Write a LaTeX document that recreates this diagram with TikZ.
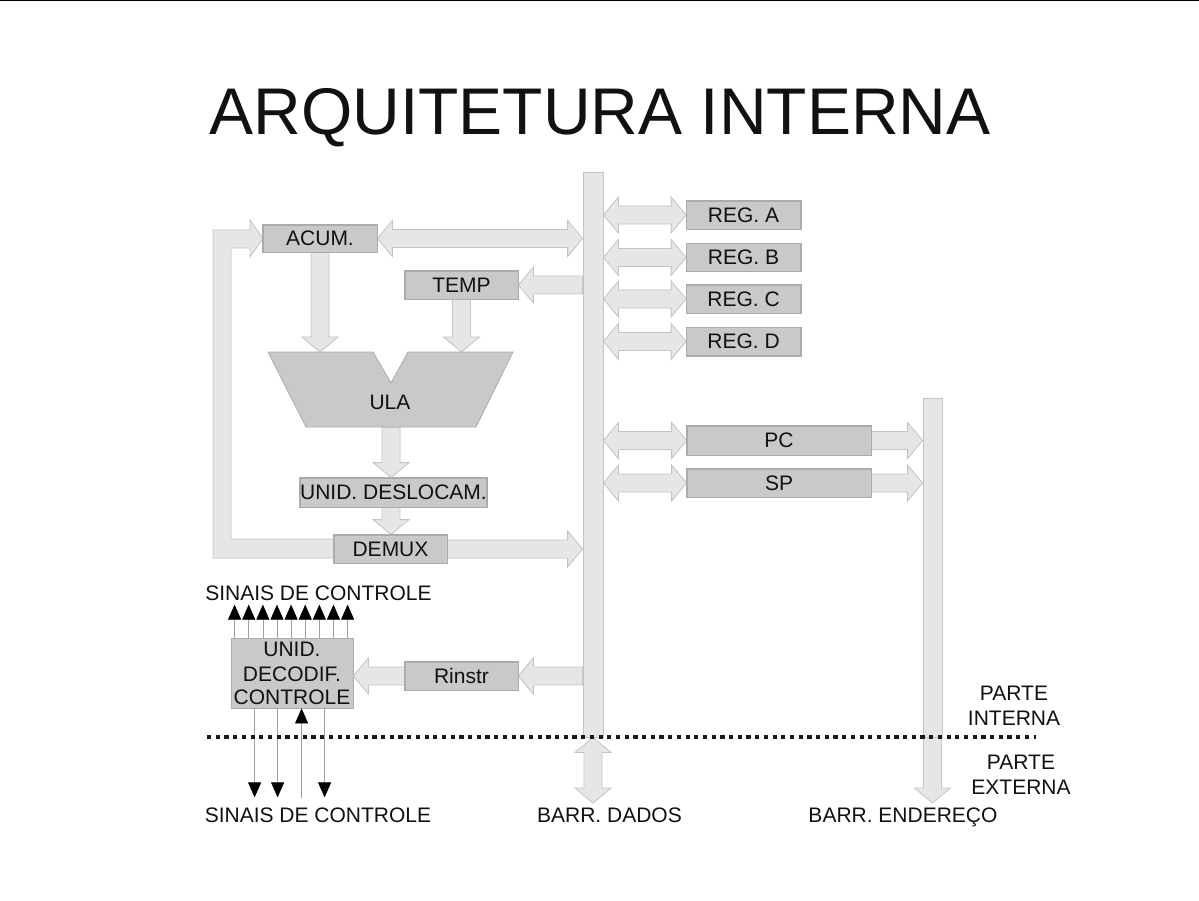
\documentclass[tikz,border=0pt]{standalone}
\usepackage{fontspec}
\setmainfont{Liberation Sans}
\usetikzlibrary{calc,arrows.meta}
\definecolor{busfill}{HTML}{E6E6E6}
\definecolor{busline}{HTML}{C4C4C4}
\definecolor{boxfill}{HTML}{C9C9C9}
\definecolor{boxline}{HTML}{ABABAB}
\definecolor{ink}{HTML}{111111}
\definecolor{sigline}{HTML}{A0A0A0}
\newcommand\sarrow[2]{%
  \coordinate (aS) at #1; \coordinate (aE) at #2;
  \coordinate (aH) at ($(aE)!15pt!(aS)$);
  \filldraw[barrow] ($(aS)!9pt!90:(aE)$) -- ($(aH)!9pt!90:(aE)$) -- ($(aH)!18pt!90:(aE)$) -- (aE)
    -- ($(aH)!18pt!-90:(aE)$) -- ($(aH)!9pt!-90:(aE)$) -- ($(aS)!9pt!-90:(aE)$) -- cycle;}
\newcommand\darrow[2]{%
  \coordinate (aS) at #1; \coordinate (aE) at #2;
  \coordinate (aH) at ($(aE)!15pt!(aS)$);
  \coordinate (aG) at ($(aS)!15pt!(aE)$);
  \filldraw[barrow] (aS) -- ($(aG)!18pt!90:(aE)$) -- ($(aG)!9pt!90:(aE)$) -- ($(aH)!9pt!90:(aE)$)
    -- ($(aH)!18pt!90:(aE)$) -- (aE) -- ($(aH)!18pt!-90:(aE)$) -- ($(aH)!9pt!-90:(aE)$)
    -- ($(aG)!9pt!-90:(aE)$) -- ($(aG)!18pt!-90:(aE)$) -- cycle;}
\begin{document}
\begin{tikzpicture}[x=1pt,y=-1pt,font=\fontsize{21}{24}\selectfont,
  box/.style={fill=boxfill,draw=boxline,line width=0.8pt,inner sep=0pt,text=ink,text depth=0pt},
  bus/.style={fill=busfill,draw=busline,line width=0.8pt,inner sep=0pt},
  barrow/.style={fill=busfill,draw=busline,line width=0.8pt},
  lbl/.style={inner sep=0pt,text=ink,text depth=0pt},
  sig/.style={draw=sigline,line width=0.7pt,-{Triangle[length=15pt,width=13pt,color=black]}}]
\useasboundingbox (0,0) rectangle (1199,901);
\fill[white] (0,0) rectangle (1199,901);
\draw[black,line width=1.5pt] (0,0.75) -- (1199,0.75);

\node[lbl,font=\fontsize{66}{70}\selectfont] (title) at (600,111.5) {ARQUITETURA INTERNA};

% buses
\node[bus,minimum width=20,minimum height=565] (dbus) at (593,454.5) {};
\node[bus,minimum width=19,minimum height=339] (abus) at (932.5,567.5) {};
\coordinate (dbot) at (593,803);
\coordinate (abot) at (932.5,803);
\darrow{(dbus.south)}{(dbot)}
\sarrow{(abus.south)}{(abot)}

% feedback loop from DEMUX to ACUM
\filldraw[barrow] (340,558) -- (213,558) -- (213,230) -- (250,230) -- (250,220) -- (263,238.5)
  -- (250,257) -- (250,248) -- (231,248) -- (231,539) -- (340,539) -- cycle;

% boxes (positions)
\coordinate (ulatop) at (390,352);
\coordinate (ulabot) at (391,427);
\node[box,minimum width=114,minimum height=28] (rega) at (743.5,215) {REG. A};
\node[box,minimum width=114,minimum height=28] (regb) at (743.5,257.5) {REG. B};
\node[box,minimum width=114,minimum height=28] (regc) at (743.5,299) {REG. C};
\node[box,minimum width=114,minimum height=28] (regd) at (743.5,341.5) {REG. D};
\node[box,minimum width=184,minimum height=29] (pc) at (779,440.5) {PC};
\node[box,minimum width=184,minimum height=28] (sp) at (779,483) {SP};
\node[box,minimum width=114,minimum height=27] (acum) at (320,238.5) {ACUM.};
\node[box,minimum width=113,minimum height=28] (temp) at (461.5,285) {TEMP};
\node[box,minimum width=185,minimum height=29] (desloc) at (393.5,492.5) {UNID. DESLOCAM.};
\node[box,minimum width=113,minimum height=28] (demux) at (390.5,549) {DEMUX};
\node[box,minimum width=113,minimum height=28] (rinstr) at (461.5,676) {Rinstr};
\node[box,minimum width=122,minimum height=70,text depth=,align=center] (unit) at (292,673)
  {UNID.\\[1pt]DECODIF.\\[-1pt]CONTROLE};

% block arrows
\darrow{(dbus.east |- rega.west)}{(rega.west)}
\darrow{(dbus.east |- regb.west)}{(regb.west)}
\darrow{(dbus.east |- regc.west)}{(regc.west)}
\darrow{(dbus.east |- regd.west)}{(regd.west)}
\darrow{(dbus.east |- pc.west)}{(pc.west)}
\darrow{(dbus.east |- sp.west)}{(sp.west)}
\sarrow{(pc.east)}{(pc.east -| abus.west)}
\sarrow{(sp.east)}{(sp.east -| abus.west)}
\darrow{(acum.east)}{(acum.east -| dbus.west)}
\sarrow{(temp.east -| dbus.west)}{(temp.east)}
\sarrow{(acum.south)}{(acum.south |- ulatop)}
\sarrow{(temp.south)}{(temp.south |- ulatop)}
\sarrow{(ulabot)}{(ulabot |- desloc.north)}
\sarrow{(ulabot |- desloc.south)}{(ulabot |- demux.north)}
\sarrow{(demux.east)}{(demux.east -| dbus.west)}
\sarrow{(rinstr.east -| dbus.west)}{(rinstr.east)}
\sarrow{(rinstr.west)}{(unit.east |- rinstr.west)}

% redraw box borders on top of arrow tips
\foreach \n in {rega,regb,regc,regd,pc,sp,acum,temp,desloc,demux,rinstr}
  \draw[boxline,line width=0.8pt] (\n.north west) rectangle (\n.south east);

% ULA
\filldraw[fill=boxfill,draw=boxline,line width=0.8pt] (268,352) -- (373,352) -- (391,383) -- (408,352)
  -- (513,352) -- (476,427) -- (306,427) -- cycle;
\node[lbl] (ula) at (390,402.5) {ULA};

% control signals
\foreach \i in {0,...,8}
  \draw[sig] ($(unit.north west)+(4+14.125*\i,0)$) -- ++(0,-33);
\foreach \dx in {24,47,94}
  \draw[sig] ($(unit.south west)+(\dx,0)$) -- ++(0,89);
\draw[sig] ($(unit.south west)+(71,90)$) -- ($(unit.south west)+(71,0)$);

% internal / external boundary
\draw[black!90,line width=3.5pt,dash pattern=on 4.2pt off 4.5pt] (207,737) -- (1036,737);

% labels
\node[lbl] (sigtop) at (318.5,593) {SINAIS DE CONTROLE};
\node[lbl] (sigbot) at (318,815) {SINAIS DE CONTROLE};
\node[lbl] (dlab) at (609.5,815) {BARR. DADOS};
\node[lbl] (alab) at (903,815) {BARR. ENDEREÇO};
\node[lbl,text depth=,align=center] (pint) at (1014,706) {PARTE\\[0.5pt]INTERNA};
\node[lbl,text depth=,align=center] (pext) at (1021,775) {PARTE\\[0.5pt]EXTERNA};
\end{tikzpicture}
\end{document}
